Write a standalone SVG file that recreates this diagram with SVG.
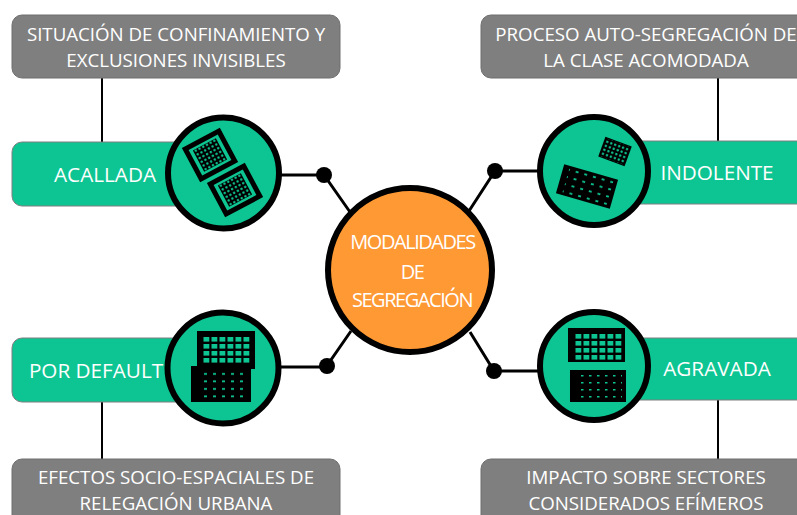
<svg xmlns="http://www.w3.org/2000/svg" width="797" height="515" viewBox="0 0 797 515">
<style>
.t{font-family:"Open Sans","Noto Sans","Liberation Sans",sans-serif;text-anchor:middle}
.g{font-size:18.700px;fill:#fff}
.b{font-size:20.700px;fill:#fff}
.gray{fill:#7f7f7f;stroke:#6f6f6f;stroke-width:1}
.green{fill:#0dc592;stroke:#7f7f7f;stroke-width:1}
.c{fill:#0dc592;stroke:#000;stroke-width:6}
.l{stroke:#000;fill:none;stroke-width:3}
.v{stroke:#000;fill:none;stroke-width:2}
.d{fill:#000}
.k{fill:#000}
</style>
<defs>
<pattern id="w1" width="8" height="7" patternUnits="userSpaceOnUse"><rect x="0.500" y="1" width="5.800" height="4.600" fill="#0dc592"/></pattern>
<pattern id="p1" width="4.200" height="4.200" patternUnits="userSpaceOnUse"><circle cx="2.100" cy="2.100" r="1.200" fill="#0dc592"/></pattern>
<pattern id="p2" width="9" height="7.500" patternUnits="userSpaceOnUse"><rect x="3" y="3" width="3" height="1.800" fill="#0dc592"/></pattern>
<pattern id="p3" width="8" height="7" patternUnits="userSpaceOnUse"><rect x="3" y="3" width="2.500" height="1.500" fill="#0dc592"/></pattern>
</defs>
<g id="connectors">
<path class="v" d="M102 78V143M718 78V141M102 402V460M718 400V460"/>
<path class="l" d="M281 175H324L350 212M650 171H495L469 211M281 367H326L351 331M650 371H494L470 332"/>
<circle class="d" cx="324" cy="175" r="8"/>
<circle class="d" cx="495" cy="171" r="8"/>
<circle class="d" cx="327" cy="366" r="8"/>
<circle class="d" cx="494" cy="371" r="8"/>
</g>
<g id="box-tl"><rect class="gray" x="12" y="15" width="328" height="63" rx="10"/>
<text class="t g" x="176" y="41">SITUACIÓN DE CONFINAMIENTO Y</text><text class="t g" x="176" y="67">EXCLUSIONES INVISIBLES</text></g>
<g id="box-tr"><rect class="gray" x="481" y="15" width="330" height="63" rx="10"/>
<text class="t g" x="646" y="41">PROCESO AUTO-SEGREGACIÓN DE</text><text class="t g" x="646" y="67">LA CLASE ACOMODADA</text></g>
<g id="box-bl"><rect class="gray" x="12" y="459" width="328" height="70" rx="10"/>
<text class="t g" x="176" y="484">EFECTOS SOCIO-ESPACIALES DE</text><text class="t g" x="176" y="510">RELEGACIÓN URBANA</text></g>
<g id="box-br"><rect class="gray" x="481" y="459" width="330" height="70" rx="10"/>
<text class="t g" x="646" y="484">IMPACTO SOBRE SECTORES</text><text class="t g" x="646" y="510">CONSIDERADOS EFÍMEROS</text></g>
<g id="acallada"><rect class="green" x="12" y="142" width="190" height="64" rx="10"/>
<text class="t b" x="105" y="182">ACALLADA</text>
<circle class="c" cx="223.500" cy="173" r="55.500"/>
<g transform="translate(210 155) rotate(-28)"><rect x="-19" y="-17" width="38" height="34" fill="none" stroke="#000" stroke-width="5"/><rect x="-13" y="-12" width="26" height="24" fill="#000"/><rect x="-13" y="-12" width="26" height="24" fill="url(#p1)"/></g>
<g transform="translate(235 190) rotate(-28)"><rect x="-19" y="-17" width="38" height="34" fill="none" stroke="#000" stroke-width="5"/><rect x="-13" y="-12" width="26" height="24" fill="#000"/><rect x="-13" y="-12" width="26" height="24" fill="url(#p1)"/></g></g>
<g id="indolente"><rect class="green" x="620" y="141" width="190" height="63" rx="10"/>
<text class="t b" x="717" y="180">INDOLENTE</text>
<circle class="c" cx="594" cy="171" r="54"/>
<g transform="translate(615 151.500) rotate(20)"><rect x="-14" y="-10.500" width="28" height="21" fill="#000"/><rect x="-12.600" y="-9.400" width="25.200" height="18.800" fill="url(#p1)"/></g>
<g transform="translate(587 186.500) rotate(16)"><rect x="-28" y="-15" width="56" height="30" fill="#000"/><rect x="-22" y="-13" width="46" height="26" fill="url(#p2)"/></g></g>
<g id="por-default"><rect class="green" x="12" y="338" width="190" height="64" rx="10"/>
<text class="t b" x="96" y="378">POR DEFAULT</text>
<circle class="c" cx="223" cy="368" r="55.500"/>
<path class="k" d="M197 331H255V369H251V402H191V366H197Z"/>
<g transform="translate(203 336)"><rect width="48" height="28" fill="url(#w1)"/></g>
<g transform="translate(201 370)"><rect width="45" height="30" fill="url(#p2)"/></g></g>
<g id="agravada"><rect class="green" x="620" y="338" width="190" height="62" rx="10"/>
<text class="t b" x="717" y="376">AGRAVADA</text>
<circle class="c" cx="594" cy="366" r="54"/>
<rect x="568" y="328" width="57" height="34" fill="#000"/>
<g transform="translate(575 333)"><rect width="48" height="28" fill="url(#w1)"/></g>
<rect x="570" y="370" width="56" height="32" fill="#000"/>
<g transform="translate(578 372)"><rect width="44" height="28" fill="url(#p3)"/></g></g>
<g id="centro"><circle cx="410" cy="270" r="82" fill="#ff9933" stroke="#000" stroke-width="6"/>
<g class="t" fill="#fff" font-size="20" letter-spacing="-1.450"><text x="412.500" y="249">MODALIDADES</text><text x="412" y="279">DE</text><text x="412" y="307">SEGREGACIÓN</text></g></g>
</svg>
